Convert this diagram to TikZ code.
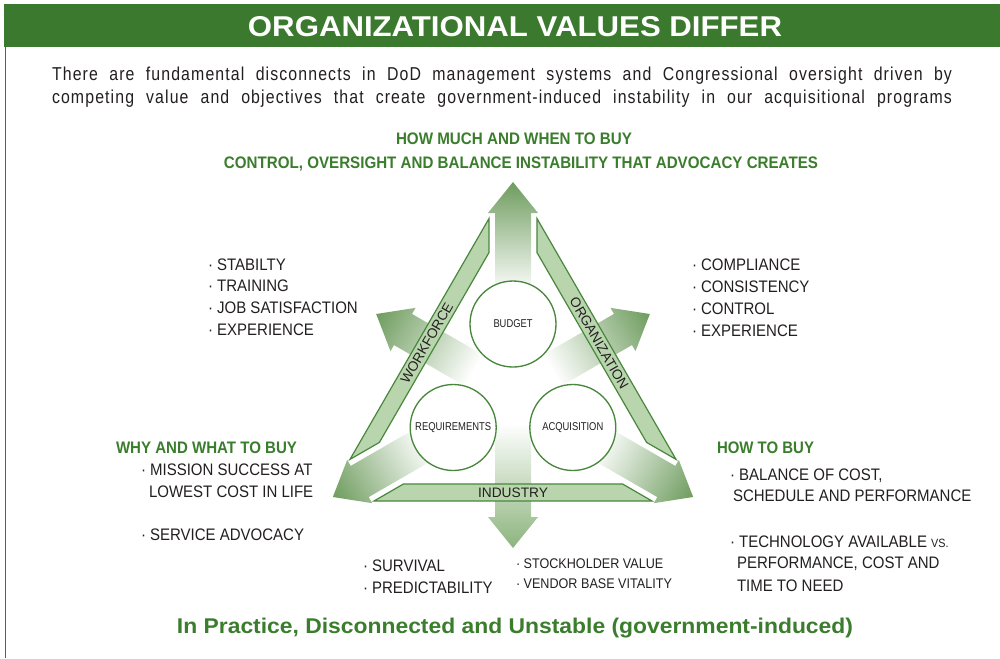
\documentclass[tikz,border=0pt]{standalone}
\usepackage{fontspec}
\setmainfont{Liberation Sans}
\newfontfamily\nar[FakeStretch=0.9]{Liberation Sans}
\newfontfamily\narb[FakeStretch=0.85,LetterSpace=6]{Liberation Sans}
\usepackage{graphicx}
\definecolor{hdr}{RGB}{59,122,46}
\definecolor{gtext}{RGB}{58,125,44}
\definecolor{bandfill}{RGB}{185,213,173}
\definecolor{bandline}{RGB}{72,135,60}
\definecolor{arrowg}{RGB}{110,156,94}
\definecolor{arrowl}{RGB}{140,180,125}
\definecolor{txt}{RGB}{35,31,32}
\newlength\px \setlength\px{0.75pt}
\newcommand\fitw[2]{\resizebox{#1\px}{\height}{#2}}
% #1 angle, #2 start, #3 tip, #4 colour
\newcommand\myarrow[4]{%
  \begin{scope}[overlay, transform canvas={shift={(513,393)}, rotate=#1}]
    \shade[left color=white, right color=#4]
      (#2,-18) -- (#3-31,-18) -- (#3-31,-25) -- (#3,0) -- (#3-31,25) -- (#3-31,18) -- (#2,18) -- cycle;
  \end{scope}}
\begin{document}
\begin{tikzpicture}[x=0.75pt, y=-0.75pt,
  every node/.style={inner sep=0pt, outer sep=0pt},
  lst/.style={anchor=base west, font=\nar\fontsize{12.5}{15}\selectfont, text=txt},
  sml/.style={lst, font=\nar\fontsize{10.5}{13}\selectfont},
  ghead/.style={anchor=base, font=\nar\bfseries\fontsize{12.5}{15}\selectfont, text=gtext},
  bodytxt/.style={anchor=base west, font=\narb\fontsize{14}{16}\selectfont, text=txt},
  circ/.style={circle, draw=bandline, line width=1pt, fill=white, minimum size=64.5pt},
  band/.style={fill=bandfill, draw=bandline, line width=0.9pt},
  clab/.style={font=\nar\fontsize{8.5}{10}\selectfont, text=txt},
  blab/.style={font=\fontsize{10.3}{12}\selectfont, text=txt}]
\useasboundingbox (0,0) rectangle (1000,658);
\fill[white] (0,0) rectangle (1000,658);
% header
\fill[hdr] (4,4) rectangle (1000,47);
\draw[hdr, line width=1.1pt] (5.5,47) -- (5.5,658);
\node[anchor=base, text=white, font=\bfseries\fontsize{21.5}{24}\selectfont] (title) at (515,36.5) {\fitw{534}{ORGANIZATIONAL VALUES DIFFER}};
\node[bodytxt] (body1) at (52,80)
  {\makebox[675pt][s]{There are fundamental disconnects in DoD management systems and Congressional oversight driven by}};
\node[bodytxt] (body2) at (52,103)
  {\makebox[675pt][s]{competing value and objectives that create government-induced instability in our acquisitional programs}};
% green headings
\node[ghead] (q1) at (514,144) {\fitw{236}{HOW MUCH AND WHEN TO BUY}};
\node[ghead] (q1b) at (521,168) {\fitw{594}{CONTROL, OVERSIGHT AND BALANCE INSTABILITY THAT ADVOCACY CREATES}};
\node[ghead, anchor=base west] (q2) at (116,453) {\fitw{181}{WHY AND WHAT TO BUY}};
\node[ghead, anchor=base west] (q3) at (717,453) {\fitw{97}{HOW TO BUY}};
% arrows
\myarrow{90}{100}{211}{arrowg}
\myarrow{210}{100}{208}{arrowg}
\myarrow{330}{100}{208}{arrowg}
\myarrow{150}{45}{158}{arrowg}
\myarrow{30}{45}{158}{arrowg}
\myarrow{270}{30}{155}{arrowl}
% bands
\begin{scope}[shift={(513,393)}]
  \draw[band] (-109.6,91) -- (109.6,91) -- (139,108) -- (-139,108) -- cycle;
\end{scope}
\begin{scope}[shift={(513,393)}, rotate=120]
  \draw[band] (-109.6,91) -- (109.6,91) -- (139,108) -- (-139,108) -- cycle;
\end{scope}
\begin{scope}[shift={(513,393)}, rotate=-120]
  \draw[band] (-109.6,91) -- (109.6,91) -- (139,108) -- (-139,108) -- cycle;
\end{scope}
\node[blab, rotate=60] (wf) at (426.8,343.3) {WORKFORCE};
\node[blab, rotate=-60] (org) at (599.2,343.3) {ORGANIZATION};
\node[blab] (ind) at (513,492.5) {INDUSTRY};
% circles
\node[circ, clab] (budget) at (513,324) {\fitw{39}{BUDGET}};
\node[circ, clab] (req) at (453.2,427.5) {\fitw{76}{REQUIREMENTS}};
\node[circ, clab] (acq) at (572.8,427.5) {\fitw{61}{ACQUISITION}};
% lists
\node[lst] (l1) at (208,270) {· STABILTY};
\node[lst] (l2) at (208,291) {· TRAINING};
\node[lst] (l3) at (208,313) {· JOB SATISFACTION};
\node[lst] (l4) at (208,335) {· EXPERIENCE};
\node[lst] (r1) at (692,270) {· COMPLIANCE};
\node[lst] (r2) at (692,292) {· CONSISTENCY};
\node[lst] (r3) at (692,314) {· CONTROL};
\node[lst] (r4) at (692,336) {· EXPERIENCE};
\node[lst] (w1) at (141,475) {· MISSION SUCCESS AT};
\node[lst] (w2) at (149,497) {LOWEST COST IN LIFE};
\node[lst] (w3) at (141,540) {· SERVICE ADVOCACY};
\node[lst] (h1) at (730,480) {· BALANCE OF COST,};
\node[lst] (h2) at (733,501) {SCHEDULE AND PERFORMANCE};
\node[lst] (h3) at (730,547) {· TECHNOLOGY AVAILABLE {\fontsize{9}{10}\selectfont VS.}};
\node[lst] (h4) at (737,568) {PERFORMANCE, COST AND};
\node[lst] (h5) at (737,591) {TIME TO NEED};
\node[lst] (b1) at (363,571) {· SURVIVAL};
\node[lst] (b2) at (363,593) {· PREDICTABILITY};
\node[sml] (b3) at (516,568) {· STOCKHOLDER VALUE};
\node[sml] (b4) at (516,588) {· VENDOR BASE VITALITY};
% final line
\node[anchor=base, text=gtext, font=\nar\bfseries\fontsize{16}{19}\selectfont] (final) at (515,633) {\fitw{676}{In Practice, Disconnected and Unstable (government-induced)}};
\end{tikzpicture}
\end{document}
